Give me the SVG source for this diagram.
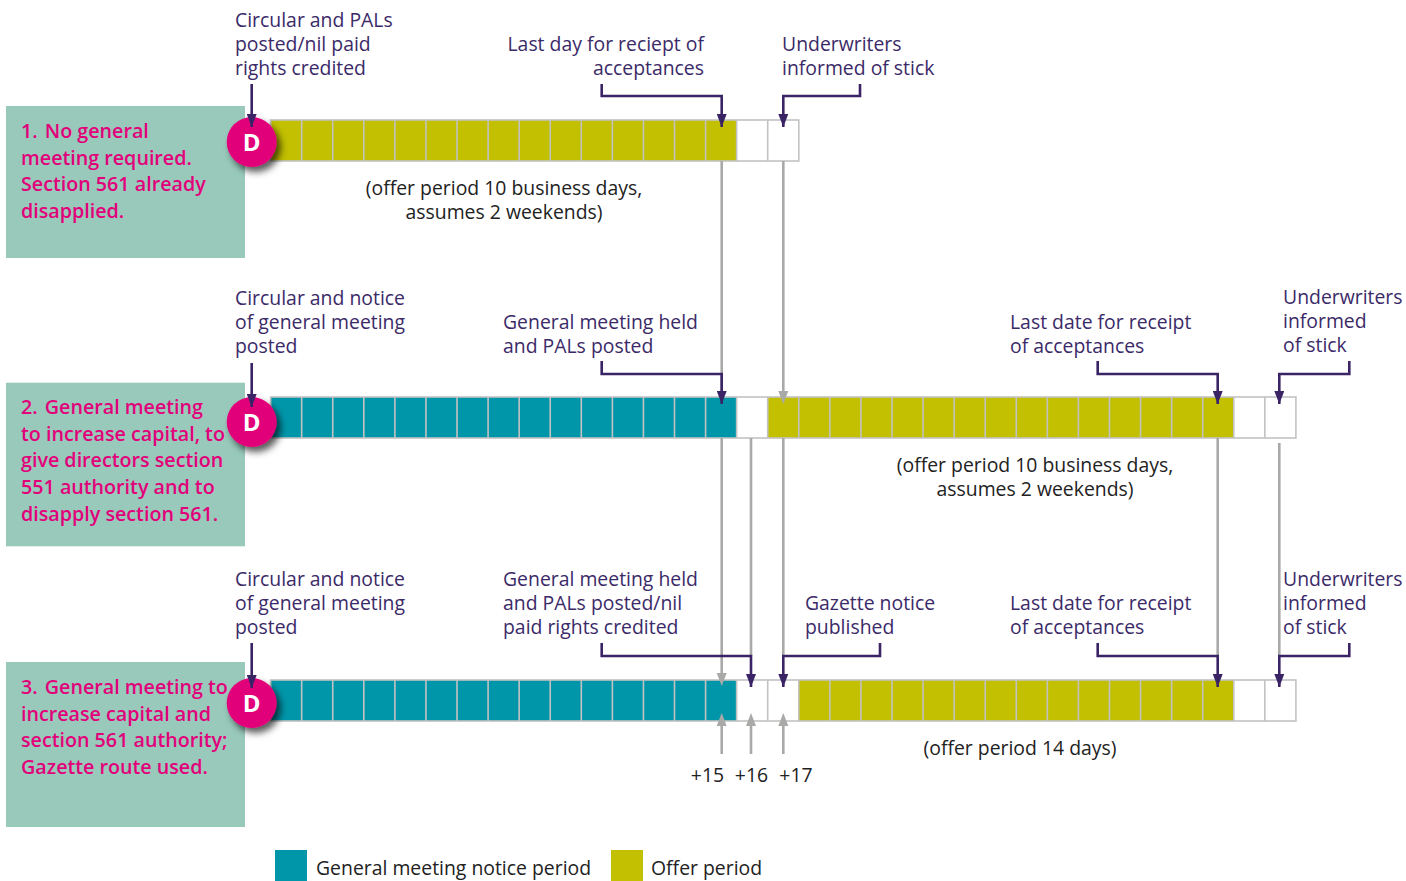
<svg xmlns="http://www.w3.org/2000/svg" width="1406" height="881" viewBox="0 0 1406 881">
<style>
.box{fill:#98c9bb}
.hd{font-family:"Open Sans","Liberation Sans",sans-serif;font-weight:600;font-size:19.7px;fill:#e2007a}
.lb{font-family:"Open Sans","Liberation Sans",sans-serif;font-size:19.4px;fill:#3b2a68}
.nt{font-family:"Open Sans","Liberation Sans",sans-serif;font-size:19.4px;fill:#222}
.dc{fill:#e2007a}
.dt{font-family:"Open Sans","Liberation Sans",sans-serif;font-weight:700;font-size:24px;fill:#fff}
.y{fill:#c2c000}
.t{fill:#0096aa}
.w{fill:#fff}
.grid{fill:none;stroke:#c2c2c2;stroke-width:1.6}
.pp{fill:none;stroke:#3b2466;stroke-width:2.6}
.gr{fill:none;stroke:#a9a9a7;stroke-width:2.6}
</style>
<defs>
<marker id="ap" viewBox="0 0 13 10" refX="13" refY="5" markerWidth="13" markerHeight="10" markerUnits="userSpaceOnUse" orient="auto"><path d="M0,0 L13,5 L0,10 Z" fill="#3b2466"/></marker>
<filter id="sh" x="-50%" y="-50%" width="220%" height="220%"><feDropShadow dx="4" dy="5" stdDeviation="3.5" flood-color="#000" flood-opacity="0.65"/></filter>
</defs>

<!-- Row 1 -->
<g id="row1">
<rect class="box" x="6" y="106" width="239" height="152"/>
<text class="hd"><tspan x="21" y="138">1. <tspan dx="2">No general</tspan></tspan><tspan x="21" y="165">meeting required.</tspan><tspan x="21" y="191">Section 561 already</tspan><tspan x="21" y="218">disapplied.</tspan></text>
<rect class="y" x="270.6" y="120" width="466.05" height="41"/>
<rect class="w" x="736.65" y="120" width="62.14" height="41"/>
<rect class="grid" x="270.6" y="120" width="528.19" height="41"/>
<path class="grid" d="M301.67,120v41m31.07-41v41m31.07-41v41m31.07-41v41m31.07-41v41m31.07-41v41m31.07-41v41m31.07-41v41m31.07-41v41m31.07-41v41m31.07-41v41m31.07-41v41m31.07-41v41m31.07-41v41m31.07-41v41m31.07-41v41"/>
<g filter="url(#sh)"><circle class="dc" cx="251.7" cy="142" r="25"/></g>
<text class="dt" x="251.7" y="150.5" text-anchor="middle">D</text>
<text class="nt" text-anchor="middle"><tspan x="504" y="195">(offer period 10 business days,</tspan><tspan x="504" y="219">assumes 2 weekends)</tspan></text>
</g>

<!-- Row 2 -->
<g id="row2">
<rect class="box" x="6" y="382.7" width="239" height="163.6"/>
<text class="hd"><tspan x="21" y="414">2. <tspan dx="2">General meeting</tspan></tspan><tspan x="21" y="441">to increase capital, to</tspan><tspan x="21" y="467">give directors section</tspan><tspan x="21" y="494">551 authority and to</tspan><tspan x="21" y="521">disapply section 561.</tspan></text>
<rect class="t" x="270.6" y="397" width="466.05" height="41"/>
<rect class="w" x="736.65" y="397" width="31.07" height="41"/>
<rect class="y" x="767.72" y="397" width="466.05" height="41"/>
<rect class="w" x="1233.77" y="397" width="62.14" height="41"/>
<rect class="grid" x="270.6" y="397" width="1025.31" height="41"/>
<path class="grid" d="M301.67,397v41m31.07-41v41m31.07-41v41m31.07-41v41m31.07-41v41m31.07-41v41m31.07-41v41m31.07-41v41m31.07-41v41m31.07-41v41m31.07-41v41m31.07-41v41m31.07-41v41m31.07-41v41m31.07-41v41m31.07-41v41m31.07-41v41m31.07-41v41m31.07-41v41m31.07-41v41m31.07-41v41m31.07-41v41m31.07-41v41m31.07-41v41m31.07-41v41m31.07-41v41m31.07-41v41m31.07-41v41m31.07-41v41m31.07-41v41m31.07-41v41m31.07-41v41"/>
<g filter="url(#sh)"><circle class="dc" cx="251.7" cy="422" r="25"/></g>
<text class="dt" x="251.7" y="430.5" text-anchor="middle">D</text>
<text class="nt" text-anchor="middle"><tspan x="1035" y="472">(offer period 10 business days,</tspan><tspan x="1035" y="496">assumes 2 weekends)</tspan></text>
</g>

<!-- Row 3 -->
<g id="row3">
<rect class="box" x="6" y="662" width="239" height="165"/>
<text class="hd"><tspan x="21" y="694">3. <tspan dx="2">General meeting to</tspan></tspan><tspan x="21" y="721">increase capital and</tspan><tspan x="21" y="747">section 561 authority;</tspan><tspan x="21" y="774">Gazette route used.</tspan></text>
<rect class="t" x="270.6" y="680" width="466.05" height="41"/>
<rect class="w" x="736.65" y="680" width="62.14" height="41"/>
<rect class="y" x="798.79" y="680" width="434.98" height="41"/>
<rect class="w" x="1233.77" y="680" width="62.14" height="41"/>
<rect class="grid" x="270.6" y="680" width="1025.31" height="41"/>
<path class="grid" d="M301.67,680v41m31.07-41v41m31.07-41v41m31.07-41v41m31.07-41v41m31.07-41v41m31.07-41v41m31.07-41v41m31.07-41v41m31.07-41v41m31.07-41v41m31.07-41v41m31.07-41v41m31.07-41v41m31.07-41v41m31.07-41v41m31.07-41v41m31.07-41v41m31.07-41v41m31.07-41v41m31.07-41v41m31.07-41v41m31.07-41v41m31.07-41v41m31.07-41v41m31.07-41v41m31.07-41v41m31.07-41v41m31.07-41v41m31.07-41v41m31.07-41v41m31.07-41v41"/>
<g filter="url(#sh)"><circle class="dc" cx="251.7" cy="703" r="25"/></g>
<text class="dt" x="251.7" y="711.5" text-anchor="middle">D</text>
<text class="nt" x="1020" y="755" text-anchor="middle">(offer period 14 days)</text>
<text class="nt" text-anchor="middle"><tspan x="707.5" y="782">+15</tspan><tspan x="751.5" y="782">+16</tspan><tspan x="796" y="782">+17</tspan></text>
</g>

<!-- grey guide lines -->
<g id="guides">
<path class="gr" d="M721.7,161 V397 M721.7,438 V674 M783.3,161 V392 M751,438 V656 M783.3,438 V656 M1217.7,438 V656 M1279.3,443 V656 M721.7,754 V726 M751,754 V726 M783.3,754 V726"/>
<path fill="#a9a9a7" d="M716.7,673 h10 l-5,13 z M778.3,391 h10 l-5,13 z M716.7,726 h10 l-5,-13 z M746,726 h10 l-5,-13 z M778.3,726 h10 l-5,-13 z"/>
</g>

<!-- labels -->
<g id="labels">
<text class="lb"><tspan x="235" y="27">Circular and PALs</tspan><tspan x="235" y="51">posted/nil paid</tspan><tspan x="235" y="75">rights credited</tspan></text>
<text class="lb" text-anchor="end"><tspan x="704" y="51">Last day for reciept of</tspan><tspan x="704" y="75">acceptances</tspan></text>
<text class="lb"><tspan x="782" y="51">Underwriters</tspan><tspan x="782" y="75">informed of stick</tspan></text>

<text class="lb"><tspan x="235" y="305">Circular and notice</tspan><tspan x="235" y="329">of general meeting</tspan><tspan x="235" y="353">posted</tspan></text>
<text class="lb"><tspan x="503" y="329">General meeting held</tspan><tspan x="503" y="353">and PALs posted</tspan></text>
<text class="lb"><tspan x="1010" y="329">Last date for receipt</tspan><tspan x="1010" y="353">of acceptances</tspan></text>
<text class="lb"><tspan x="1283" y="304">Underwriters</tspan><tspan x="1283" y="328">informed</tspan><tspan x="1283" y="352">of stick</tspan></text>

<text class="lb"><tspan x="235" y="586">Circular and notice</tspan><tspan x="235" y="610">of general meeting</tspan><tspan x="235" y="634">posted</tspan></text>
<text class="lb"><tspan x="503" y="586">General meeting held</tspan><tspan x="503" y="610">and PALs posted/nil</tspan><tspan x="503" y="634">paid rights credited</tspan></text>
<text class="lb"><tspan x="805" y="610">Gazette notice</tspan><tspan x="805" y="634">published</tspan></text>
<text class="lb"><tspan x="1010" y="610">Last date for receipt</tspan><tspan x="1010" y="634">of acceptances</tspan></text>
<text class="lb"><tspan x="1283" y="586">Underwriters</tspan><tspan x="1283" y="610">informed</tspan><tspan x="1283" y="634">of stick</tspan></text>
</g>

<!-- purple connectors -->
<g id="connectors" class="pp">
<path marker-end="url(#ap)" d="M251.7,84 V127"/>
<path marker-end="url(#ap)" d="M601.7,84 V96 H721.7 V127"/>
<path marker-end="url(#ap)" d="M860,84 V96 H783.3 V127"/>
<path marker-end="url(#ap)" d="M251.7,363 V407"/>
<path marker-end="url(#ap)" d="M601.7,361 V374 H721.7 V404"/>
<path marker-end="url(#ap)" d="M1097.7,361 V374 H1217.7 V404"/>
<path marker-end="url(#ap)" d="M1349.3,361 V374 H1279.3 V404"/>
<path marker-end="url(#ap)" d="M251.7,643 V688"/>
<path marker-end="url(#ap)" d="M601.7,643 V656 H751 V687"/>
<path marker-end="url(#ap)" d="M880,643 V656 H783.3 V687"/>
<path marker-end="url(#ap)" d="M1097.7,643 V656 H1217.7 V687"/>
<path marker-end="url(#ap)" d="M1349.3,643 V656 H1279.3 V687"/>
</g>

<!-- legend -->
<g id="legend">
<rect class="t" x="275" y="850" width="32" height="31"/>
<text class="nt" x="316" y="875">General meeting notice period</text>
<rect class="y" x="611" y="850" width="32" height="31"/>
<text class="nt" x="651" y="875">Offer period</text>
</g>
</svg>
